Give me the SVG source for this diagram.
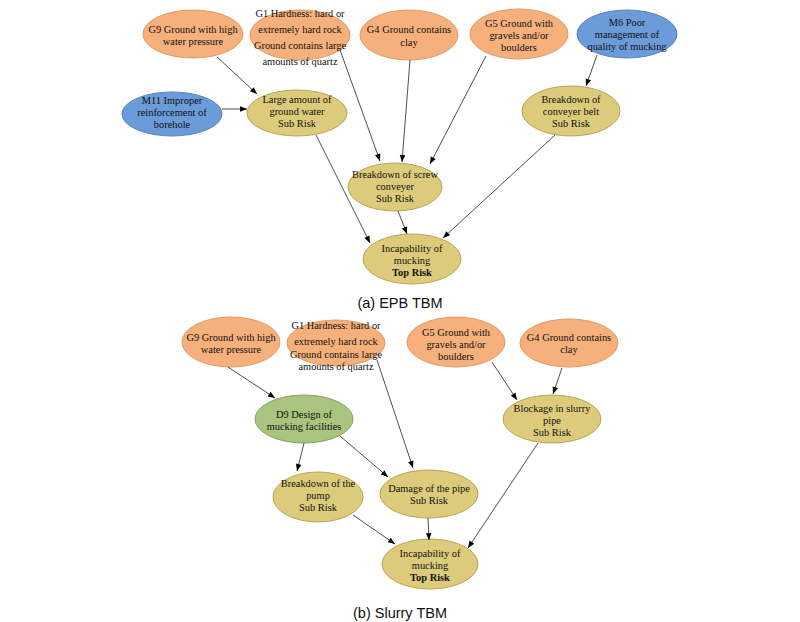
<svg xmlns="http://www.w3.org/2000/svg" width="800" height="622" viewBox="0 0 800 622">
<defs>
<marker id="ah" viewBox="0 0 10 10" refX="10" refY="5" markerWidth="8" markerHeight="7" markerUnits="userSpaceOnUse" orient="auto">
<path d="M0,1 L10,5 L0,9 z" fill="#000"/>
</marker>
<style>
.g{fill:#F6B07C;stroke:#E09A66;stroke-width:1}
.m{fill:#6B9BD9;stroke:#5584C2;stroke-width:1}
.s{fill:#DCCB7A;stroke:#B9A456;stroke-width:1}
.d{fill:#A8C47F;stroke:#87A363;stroke-width:1}
text{font-family:"Liberation Serif","Times New Roman",serif;font-size:10.4px;fill:#111;text-anchor:middle}
.b{font-weight:bold}
.cap{font-family:"Liberation Sans",Arial,sans-serif;font-size:14.5px}
.e line{stroke:#222;stroke-width:0.8;marker-end:url(#ah)}
</style>
</defs>
<rect width="800" height="622" fill="#fff"/>

<!-- (a) EPB TBM -->
<g id="a_G9"><ellipse class="g" cx="193" cy="34" rx="50" ry="24"/><text x="193" y="33">G9 Ground with high</text><text x="193" y="45">water pressure</text></g>
<g id="a_G1"><ellipse class="g" cx="300" cy="35" rx="50" ry="25"/><text x="300" y="17">G1 Hardness: hard or</text><text x="300" y="33">extremely hard rock</text><text x="300" y="49">Ground contains large</text><text x="300" y="65">amounts of quartz</text></g>
<g id="a_G4"><ellipse class="g" cx="409" cy="35" rx="49" ry="25"/><text x="409" y="33">G4 Ground contains</text><text x="409" y="46">clay</text></g>
<g id="a_G5"><ellipse class="g" cx="519" cy="34" rx="49" ry="25"/><text x="519" y="27">G5 Ground with</text><text x="519" y="39">gravels and/or</text><text x="519" y="51">boulders</text></g>
<g id="a_M6"><ellipse class="m" cx="627" cy="34" rx="50" ry="24"/><text x="627" y="26">M6 Poor</text><text x="627" y="38">management of</text><text x="627" y="50">quality of mucking</text></g>
<g id="a_M11"><ellipse class="m" cx="172" cy="114" rx="50" ry="22"/><text x="172" y="104">M11 Improper</text><text x="172" y="116">reinforcement of</text><text x="172" y="128">borehole</text></g>
<g id="a_LAGW"><ellipse class="s" cx="297" cy="113" rx="50" ry="23"/><text x="297" y="103">Large amount of</text><text x="297" y="115">ground water</text><text x="297" y="127">Sub Risk</text></g>
<g id="a_BCB"><ellipse class="s" cx="571" cy="111" rx="49" ry="25"/><text x="571" y="103">Breakdown of</text><text x="571" y="115">conveyer belt</text><text x="571" y="127">Sub Risk</text></g>
<g id="a_BSC"><ellipse class="s" cx="395" cy="187" rx="47" ry="24"/><text x="395" y="178">Breakdown of screw</text><text x="395" y="190">conveyer</text><text x="395" y="202">Sub Risk</text></g>
<g id="a_TOP"><ellipse class="s" cx="412" cy="259" rx="49" ry="25"/><text x="412" y="252">Incapability of</text><text x="412" y="264">mucking</text><text x="412" y="276" class="b">Top Risk</text></g>
<text class="cap" x="400" y="308">(a)  EPB  TBM</text>

<!-- (b) Slurry TBM -->
<g id="b_G9"><ellipse class="g" cx="231" cy="342" rx="49" ry="25"/><text x="231" y="341">G9 Ground with high</text><text x="231" y="353">water pressure</text></g>
<g id="b_G1"><ellipse class="g" cx="336" cy="343" rx="49" ry="23"/><text x="336" y="329">G1 Hardness: hard or</text><text x="336" y="345">extremely hard rock</text><text x="336" y="358">Ground contains large</text><text x="336" y="370">amounts of quartz</text></g>
<g id="b_G5"><ellipse class="g" cx="456" cy="342" rx="49" ry="25"/><text x="456" y="336">G5 Ground with</text><text x="456" y="348">gravels and/or</text><text x="456" y="360">boulders</text></g>
<g id="b_G4"><ellipse class="g" cx="569" cy="343" rx="49" ry="24"/><text x="569" y="341">G4 Ground contains</text><text x="569" y="353">clay</text></g>
<g id="b_D9"><ellipse class="d" cx="304" cy="419" rx="49" ry="24"/><text x="304" y="418">D9 Design of</text><text x="304" y="430">mucking facilities</text></g>
<g id="b_BSP"><ellipse class="s" cx="552" cy="419" rx="49" ry="24"/><text x="552" y="412">Blockage in slurry</text><text x="552" y="424">pipe</text><text x="552" y="436">Sub Risk</text></g>
<g id="b_BP"><ellipse class="s" cx="318" cy="497" rx="45" ry="25"/><text x="318" y="487">Breakdown of the</text><text x="318" y="499">pump</text><text x="318" y="511">Sub Risk</text></g>
<g id="b_DP"><ellipse class="s" cx="429" cy="494" rx="49" ry="24"/><text x="429" y="492">Damage of the pipe</text><text x="429" y="504">Sub Risk</text></g>
<g id="b_TOP"><ellipse class="s" cx="430" cy="564" rx="48" ry="25"/><text x="430" y="557">Incapability of</text><text x="430" y="569">mucking</text><text x="430" y="581" class="b">Top Risk</text></g>
<text class="cap" x="400" y="618">(b)  Slurry  TBM</text>

<g id="connectors" class="e">
<line x1="217" y1="57" x2="257" y2="94"/>
<line x1="222" y1="109" x2="247" y2="109"/>
<line x1="340" y1="50" x2="380" y2="161"/>
<line x1="410" y1="60" x2="402" y2="162"/>
<line x1="486" y1="56" x2="430" y2="164"/>
<line x1="597" y1="55" x2="586" y2="86"/>
<line x1="316" y1="135" x2="370" y2="243"/>
<line x1="398" y1="211" x2="407" y2="234"/>
<line x1="555" y1="135" x2="443" y2="238"/>

<line x1="228" y1="367" x2="275" y2="398"/>
<line x1="377" y1="360" x2="413" y2="468"/>
<line x1="492" y1="362" x2="517" y2="400"/>
<line x1="562" y1="368" x2="553" y2="394"/>
<line x1="304" y1="443" x2="297" y2="471"/>
<line x1="340" y1="436" x2="388" y2="477"/>
<line x1="353" y1="515" x2="395" y2="544"/>
<line x1="428" y1="518" x2="429" y2="540"/>
<line x1="538" y1="443" x2="468" y2="548"/>
</g>
</svg>
